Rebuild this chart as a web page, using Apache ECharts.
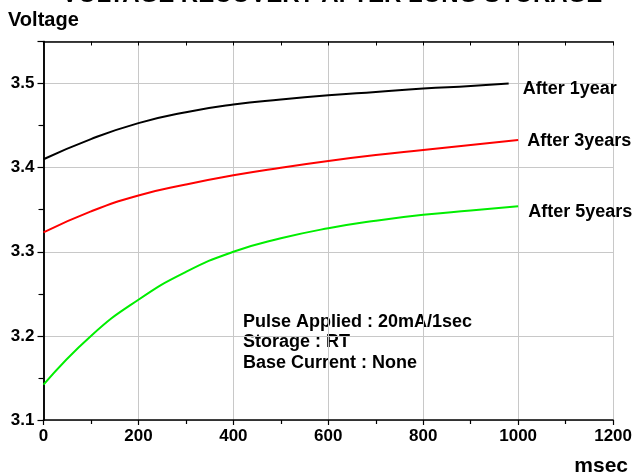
<!DOCTYPE html>
<html>
<head>
<meta charset="utf-8">
<script src="https://cdn.jsdelivr.net/npm/echarts@6/dist/echarts.min.js"></script>
<style>
html,body{margin:0;padding:0;background:#fff;}
#c{width:635px;height:475px;}
</style>
</head>
<body>
<div id="c"></div>
<script>
const titleText = 'VOLTAGE RECOVERY AFTER LONG STORAGE';
const yAxisName = 'Voltage';
const xAxisName = 'msec';
const seriesNames = ['After 1year', 'After 3years', 'After 5years'];
const seriesColors = ['#000000', '#ff0000', '#00ee00'];
const time1Year = [0, 100, 200, 300, 400, 500, 600, 700, 800, 900, 980];
const volt1Year = [3.410, 3.434, 3.453, 3.466, 3.475, 3.481, 3.486, 3.490, 3.494, 3.497, 3.500];
const time3Years = [0, 100, 200, 300, 400, 500, 600, 700, 800, 900, 1000];
const volt3Years = [3.323, 3.348, 3.367, 3.380, 3.391, 3.400, 3.408, 3.415, 3.421, 3.427, 3.433];
const time5Years = [0, 100, 200, 300, 400, 500, 600, 700, 800, 900, 1000];
const volt5Years = [3.142, 3.200, 3.243, 3.276, 3.300, 3.316, 3.328, 3.337, 3.344, 3.349, 3.354];
const noteLines = ['Pulse Applied : 20mA/1sec', 'Storage : RT', 'Base Current : None'];

const FONT = '"Liberation Sans", Arial, sans-serif';
const chart = echarts.init(document.getElementById('c'), null, {renderer: 'canvas'});

function pairs(xs, ys) { return xs.map((x, i) => [x, ys[i]]); }
const allData = [pairs(time1Year, volt1Year), pairs(time3Years, volt3Years), pairs(time5Years, volt5Years)];
const labelOffsets = [[6, 5], [1, 1], [2, 6]];

const baseAxisLine = {show: true, lineStyle: {color: '#000', width: 1.5}};

chart.setOption({
  backgroundColor: '#fff',
  animation: false,
  grid: {left: 43.5, right: 21.5, top: 41.5, bottom: 55, containLabel: false},
  xAxis: [{
    type: 'value', min: 0, max: 1200, interval: 200,
    axisLine: baseAxisLine,
    axisTick: {show: true, inside: false, length: 5, lineStyle: {color: '#000', width: 1.2}},
    minorTick: {show: true, splitNumber: 2, length: 4, lineStyle: {color: '#000', width: 1.2}},
    splitLine: {show: true, lineStyle: {color: '#c8c8c8', width: 1}},
    axisLabel: {color: '#000', fontFamily: FONT, fontWeight: 'bold', fontSize: 17, margin: 8,
      formatter: v => String(v)}
  }, {
    type: 'value', position: 'top', min: 0, max: 1200, interval: 200,
    axisLine: baseAxisLine,
    axisTick: {show: true, inside: true, length: 4, lineStyle: {color: '#000'}},
    minorTick: {show: true, splitNumber: 2, length: 4, lineStyle: {color: '#000'}},
    splitLine: {show: false}, axisLabel: {show: false}
  }],
  yAxis: [{
    type: 'value', min: 3.1, max: 3.55, interval: 0.1,
    axisLine: baseAxisLine,
    axisTick: {show: true, inside: false, length: 6, lineStyle: {color: '#000', width: 1.2}},
    minorTick: {show: true, splitNumber: 2, length: 4, lineStyle: {color: '#000', width: 1.2}},
    splitLine: {show: true, lineStyle: {color: '#c8c8c8', width: 1}},
    axisLabel: {color: '#000', fontFamily: FONT, fontWeight: 'bold', fontSize: 17, margin: 9,
      showMaxLabel: false, formatter: v => v.toFixed(1)}
  }, {
    type: 'value', position: 'right', min: 3.1, max: 3.55, interval: 0.1,
    axisLine: baseAxisLine,
    axisTick: {show: true, inside: true, length: 5, lineStyle: {color: '#000'}},
    minorTick: {show: true, splitNumber: 2, length: 5, lineStyle: {color: '#000'}},
    splitLine: {show: false}, axisLabel: {show: false}
  }],
  series: seriesNames.map((name, i) => ({
    name: name, type: 'line', xAxisIndex: 0, yAxisIndex: 0,
    data: allData[i], smooth: 0.5, showSymbol: false, symbol: 'none',
    lineStyle: {color: seriesColors[i], width: 2},
    endLabel: {show: true, formatter: name, color: '#000', fontFamily: FONT,
      fontWeight: 'bold', fontSize: 18, offset: labelOffsets[i]}
  })),
  graphic: [
    {type: 'text', x: 332, y: -17, style: {text: titleText, fill: '#000', font: 'bold 24px ' + FONT, align: 'center', verticalAlign: 'top'}},
    {type: 'text', x: 8, y: 20, style: {text: yAxisName, fill: '#000', font: 'bold 20px ' + FONT, align: 'left', verticalAlign: 'middle'}},
    {type: 'text', x: 628, y: 466, style: {text: xAxisName, fill: '#000', font: 'bold 21px ' + FONT, align: 'right', verticalAlign: 'middle'}},
    {type: 'text', x: 243, y: 322, style: {text: noteLines[0], fill: '#000', font: 'bold 18px ' + FONT, align: 'left', verticalAlign: 'middle'}},
    {type: 'text', x: 243, y: 342, style: {text: noteLines[1], fill: '#000', font: 'bold 18px ' + FONT, align: 'left', verticalAlign: 'middle'}},
    {type: 'text', x: 243, y: 363, style: {text: noteLines[2], fill: '#000', font: 'bold 18px ' + FONT, align: 'left', verticalAlign: 'middle'}}
  ]
});
</script>
</body>
</html>
